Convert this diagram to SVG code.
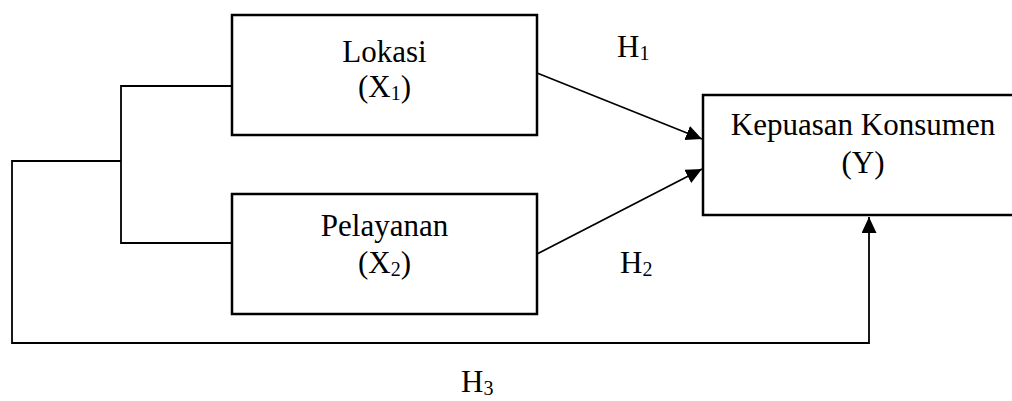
<svg xmlns="http://www.w3.org/2000/svg" width="1012" height="401" viewBox="0 0 1012 401">
  <style>
    .box { fill: #ffffff; stroke: #000000; stroke-width: 2.5; }
    .wire { fill: none; stroke: #000000; stroke-width: 1.8; }
    text { font-family: "Liberation Serif", "Times New Roman", serif; font-size: 31px; fill: #000000; }
    .mid { text-anchor: middle; }
    .sub { font-size: 20px; }
  </style>
  <defs>
    <marker id="head" markerUnits="userSpaceOnUse" markerWidth="17" markerHeight="16" refX="16" refY="7.5" orient="auto">
      <path d="M0,0 L16,7.5 L0,15 z" fill="#000000"/>
    </marker>
  </defs>

  <rect width="1012" height="401" fill="#ffffff"/>

  <!-- connectors -->
  <g id="connectors">
    <!-- bracket joining both predictors -->
    <polyline class="wire" points="232,86 121,86 121,243 232,243"/>
    <!-- joint path to Y -->
    <polyline class="wire" points="121,161 12,161 12,343 869,343 869,217" marker-end="url(#head)"/>
    <!-- H1 -->
    <line class="wire" x1="537" y1="73" x2="702" y2="139" marker-end="url(#head)"/>
    <!-- H2 -->
    <line class="wire" x1="537" y1="254" x2="702" y2="169" marker-end="url(#head)"/>
  </g>

  <g id="lokasi">
    <rect class="box" x="232" y="15" width="305" height="120"/>
    <text class="mid" x="384.5" y="62">Lokasi</text>
    <text class="mid" x="384.5" y="97">(X<tspan class="sub" dy="3">1</tspan><tspan dy="-3">)</tspan></text>
  </g>

  <g id="pelayanan">
    <rect class="box" x="232" y="194" width="305" height="120"/>
    <text class="mid" x="384.5" y="236">Pelayanan</text>
    <text class="mid" x="384.5" y="273">(X<tspan class="sub" dy="3">2</tspan><tspan dy="-3">)</tspan></text>
  </g>

  <g id="kepuasan">
    <rect class="box" x="703" y="95" width="320" height="120"/>
    <text class="mid" x="863" y="135">Kepuasan Konsumen</text>
    <text class="mid" x="863" y="173">(Y)</text>
  </g>

  <g id="labels">
    <text x="617" y="57">H<tspan class="sub" dy="3">1</tspan></text>
    <text x="620" y="273">H<tspan class="sub" dy="3">2</tspan></text>
    <text x="461" y="392">H<tspan class="sub" dy="3">3</tspan></text>
  </g>
</svg>
